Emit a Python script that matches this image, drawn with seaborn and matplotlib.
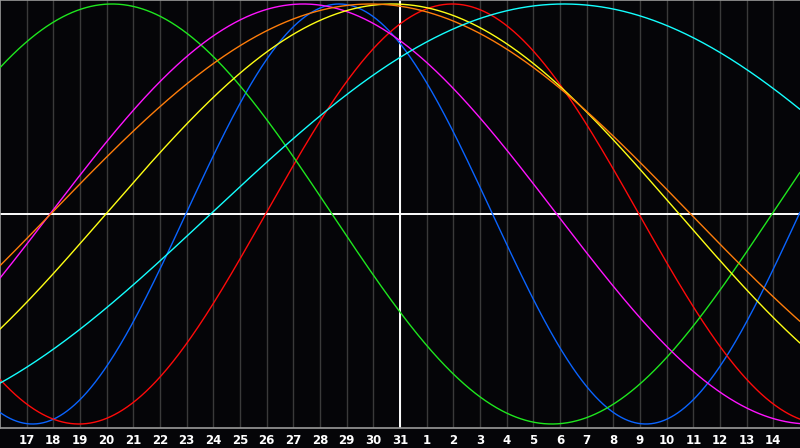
import numpy as np
import pandas as pd
import seaborn as sns
import matplotlib
matplotlib.use("Agg")
import matplotlib.pyplot as plt

# ---- data ----
day_labels = ["17", "18", "19", "20", "21", "22", "23", "24", "25", "26", "27", "28",
              "29", "30", "31", "1", "2", "3", "4", "5", "6", "7", "8", "9", "10",
              "11", "12", "13", "14"]
cycle_names = ["physical", "emotional", "intellectual", "intuitive",
               "aesthetic", "awareness", "spiritual"]
cycle_periods = [23, 28, 33, 38, 43, 48, 53]                 # days
cycle_zero_day = [6.97, 9.96, -4.05, 1.875, 3.97, 1.9, 7.9]  # ascending zero (day index)
cycle_colors = ["#0a64ff", "#ff0a0a", "#1ee61e", "#ff14ff",
                "#ffff14", "#ff7d0a", "#14ffff"]
today_index = 15  # "31"
span_days = 30

sns.set_style("dark")
plt.rcParams["font.family"] = ["DejaVu Sans"]

fig = plt.figure(figsize=(8, 4.48), dpi=100)
fig.patch.set_facecolor("#050508")
ax = fig.add_axes([0, 20 / 448, 1, 428 / 448])
ax.set_facecolor("#050508")

t = np.linspace(0, span_days, 1201)
frames = []
for name, p, z in zip(cycle_names, cycle_periods, cycle_zero_day):
    frames.append(pd.DataFrame({"day": t,
                                "value": np.sin(2 * np.pi * (t - z) / p),
                                "cycle": name}))
df = pd.concat(frames, ignore_index=True)

# grid
for d in range(1, span_days):
    ax.axvline(d, color="#3a3a3a", lw=1.0, zorder=1)
ax.axhline(0, color="white", lw=1.4, zorder=2)
ax.axvline(today_index, color="white", lw=1.4, zorder=2)

sns.lineplot(data=df, x="day", y="value", hue="cycle", hue_order=cycle_names,
             palette=dict(zip(cycle_names, cycle_colors)), lw=1.0,
             legend=False, ax=ax, zorder=3, sort=False, estimator=None)

ax.set_xlim(0, span_days)
ax.set_ylim(-214 / 210, 214 / 210)
ax.set_xticks(range(1, span_days))
ax.set_xticklabels(day_labels, color="white", fontsize=8.5, fontweight="bold")
ax.tick_params(axis="x", length=0, pad=4)
ax.set_yticks([])
ax.set_xlabel("")
ax.set_ylabel("")
ax.grid(False)
for side in ["left", "top", "bottom"]:
    ax.spines[side].set_visible(True)
    ax.spines[side].set_color("#9a9a9a")
    ax.spines[side].set_linewidth(1.2)
ax.spines["right"].set_visible(False)

fig.savefig("out.png", dpi=100, facecolor=fig.get_facecolor())
